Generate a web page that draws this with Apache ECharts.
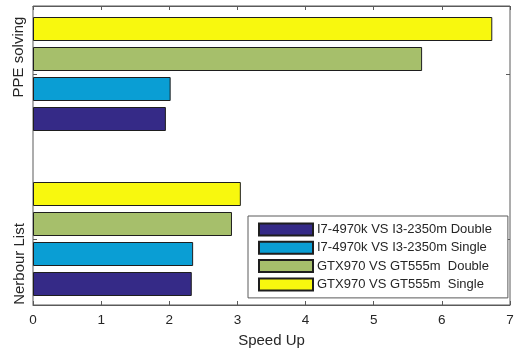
<!DOCTYPE html>
<html>
<head>
<meta charset="utf-8">
<script src="https://cdn.jsdelivr.net/npm/echarts@6/dist/echarts.min.js"></script>
<style>
  html, body { margin: 0; padding: 0; background: #fff; }
  #chart { width: 521px; height: 350px; }
</style>
</head>
<body>
<div id="chart"></div>
<script>
// Benchmark tasks (bottom to top)
const categories = ['Nerbour List', 'PPE solving'];
// Comparison names, in legend order
const seriesNames = [
  'I7-4970k VS I3-2350m Double',
  'I7-4970k VS I3-2350m Single',
  'GTX970 VS GT555m  Double',
  'GTX970 VS GT555m  Single'
];
// Speed-up factors per task
const cpuDouble = [2.33, 1.95];
const cpuSingle = [2.35, 2.02];
const gpuDouble = [2.92, 5.71];
const gpuSingle = [3.05, 6.74];
const seriesValues = [cpuDouble, cpuSingle, gpuDouble, gpuSingle];
// Speed-up axis
const speedMin = 0;
const speedMax = 7;
const speedStep = 1;

const colors = ['#352a87', '#0a9ed4', '#a6bf6b', '#f8f80e'];
const font = 'Liberation Sans, Arial, Helvetica, sans-serif';
const frameColor = '#5a5a5a';
const textColor = '#262626';

const chart = echarts.init(document.getElementById('chart'), null, { renderer: 'canvas' });

// ECharts stacks the first series at the top of each band, so add them
// in reverse to put the first comparison at the bottom.
const bars = seriesNames.map((name, i) => ({
  name: name,
  type: 'bar',
  xAxisIndex: 0,
  yAxisIndex: 0,
  data: seriesValues[i],
  barWidth: 24,
  barGap: '25%',
  itemStyle: { color: colors[i], borderColor: '#1e1e1e', borderWidth: 1 },
  emphasis: { disabled: true },
  z: 2
})).reverse();

chart.setOption({
  animation: false,
  textStyle: { fontFamily: font },
  grid: [
    // bars: band size chosen so the groups sit on the frame ticks
    { left: 33, right: 11, top: -8.5, height: 330, outerBoundsMode: 'none', containLabel: false },
    // visible frame
    { left: 33, right: 11, top: 6, bottom: 45, outerBoundsMode: 'none', containLabel: false,
      show: true, borderColor: frameColor, borderWidth: 1, backgroundColor: 'transparent' }
  ],
  xAxis: [
    { gridIndex: 0, type: 'value', min: speedMin, max: speedMax, interval: speedStep, show: false },
    {
      gridIndex: 1, type: 'value', position: 'bottom',
      min: speedMin, max: speedMax, interval: speedStep,
      axisLine: { show: true, lineStyle: { color: frameColor } },
      axisTick: { show: true, inside: true, length: 4, lineStyle: { color: frameColor } },
      splitLine: { show: false },
      axisLabel: { color: textColor, fontSize: 13.5, margin: 8, fontFamily: font },
      name: 'Speed Up', nameLocation: 'middle', nameGap: 28,
      nameTextStyle: { color: textColor, fontSize: 15, fontFamily: font }
    },
    {
      gridIndex: 1, type: 'value', position: 'top',
      min: speedMin, max: speedMax, interval: speedStep,
      axisLine: { show: true, lineStyle: { color: frameColor } },
      axisTick: { show: true, inside: true, length: 4, lineStyle: { color: frameColor } },
      splitLine: { show: false },
      axisLabel: { show: false }
    }
  ],
  yAxis: [
    {
      gridIndex: 0, type: 'category', data: categories, position: 'left',
      axisLine: { show: false },
      axisTick: { show: true, inside: true, alignWithLabel: true, length: 4, lineStyle: { color: frameColor } },
      axisLabel: { show: false },
      splitLine: { show: false }
    },
    {
      gridIndex: 0, type: 'category', data: categories, position: 'right',
      axisLine: { show: false },
      axisTick: { show: true, inside: true, alignWithLabel: true, length: 4, lineStyle: { color: frameColor } },
      axisLabel: { show: false },
      splitLine: { show: false }
    },
    { gridIndex: 1, type: 'value', min: 0, max: 1, show: false }
  ],
  legend: {
    orient: 'vertical',
    left: 248,
    top: 216,
    data: seriesNames,
    icon: 'rect',
    itemWidth: 54,
    itemHeight: 12,
    itemGap: 4.3,
    padding: [6.5, 16, 6.5, 10],
    borderColor: frameColor,
    borderWidth: 1,
    backgroundColor: '#ffffff',
    selectedMode: false,
    textStyle: { color: textColor, fontSize: 13, lineHeight: 13, fontFamily: font, padding: [0, 0, 0, -1] }
  },
  series: bars
});

// Rotated task names on the left of the frame
const labelSpots = [[20, 264], [19, 57]];
chart.setOption({
  graphic: categories.map((name, i) => ({
    type: 'text',
    x: labelSpots[i][0],
    y: labelSpots[i][1],
    rotation: Math.PI / 2,
    silent: true,
    style: {
      text: name,
      fill: textColor,
      font: '15px ' + font,
      textAlign: 'center',
      textVerticalAlign: 'middle'
    }
  }))
});
</script>
</body>
</html>
